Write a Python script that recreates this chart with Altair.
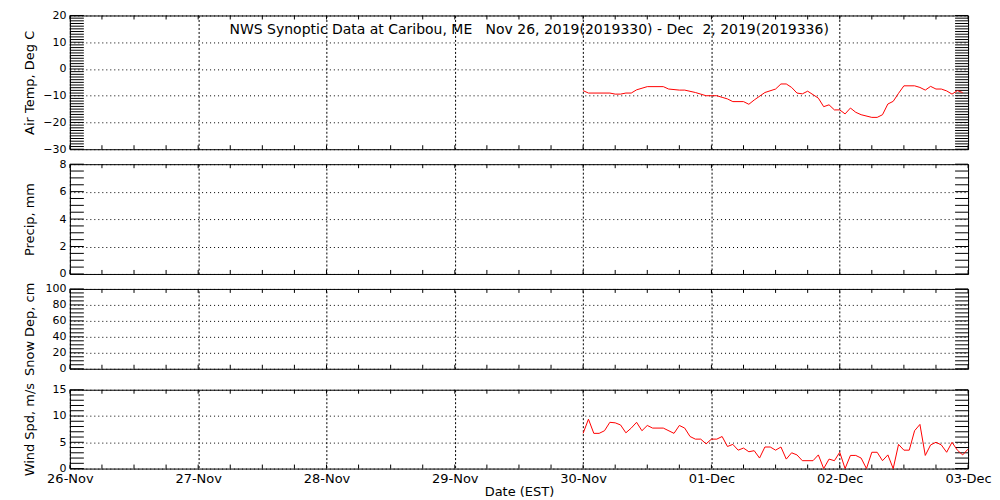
import json
import altair as alt
import numpy as np
import pandas as pd

day_labels = ["26-Nov", "27-Nov", "28-Nov", "29-Nov", "30-Nov", "01-Dec", "02-Dec", "03-Dec"]
title_text = "NWS Synoptic Data at Caribou, ME   Nov 26, 2019(2019330) - Dec  2, 2019(2019336)"

# hours since 30-Nov 00:00 EST
temp_hours = [0, 1, 5, 6, 7, 8, 9, 10, 12, 15, 16, 18, 19, 21, 23, 25, 26, 27, 28, 30,
              31, 32, 34, 36, 37, 38, 39, 40, 41, 42, 43, 44, 45, 46, 47, 48, 49, 50, 51, 52,
              54, 55, 56, 57, 58, 59, 60, 62, 63, 64, 65, 66, 67, 68, 69, 70, 71]
temp_vals = [-8.1, -9.0, -9.0, -9.4, -9.4, -9.0, -9.0, -7.8, -6.6, -6.6,
             -7.5, -7.9, -7.9, -8.8, -10.0, -10.0, -10.6, -11.2, -12.2, -12.2,
             -13.2, -11.6, -8.8, -7.5, -5.6, -5.6, -6.9, -9.0, -9.3, -8.3,
             -9.6, -10.9, -14.1, -13.4, -15.3, -15.3, -16.8, -14.6, -16.2, -17.1,
             -18.1, -18.1, -17.1, -13.1, -12.1, -9.1, -6.3, -6.3, -6.9, -7.9,
             -6.5, -7.5, -7.5, -8.2, -9.4, -8.1, -8.8]

wind_hours = [0, 1, 2, 3, 4, 5, 6, 7, 8, 9, 10, 11, 12, 13, 15, 17, 18, 19, 20, 21,
              22, 23, 24, 25, 26, 27, 28, 29, 30, 31, 32, 33, 34, 35, 36, 37, 38, 39, 40, 41,
              43, 44, 45, 46, 47, 48, 49, 50, 51, 52, 53, 54, 55, 56, 57, 58, 59, 60, 61, 62,
              63, 64, 65, 66, 67, 68, 69, 70, 71, 72]
wind_vals = [6.7, 9.4, 6.7, 6.7, 7.2, 8.8, 8.7, 8.3, 6.8, 7.7, 8.8, 7.2, 8.2, 7.7,
             7.7, 6.7, 8.2, 7.7, 6.1, 5.6, 5.6, 4.7, 5.6, 5.6, 6.1, 4.2,
             4.6, 3.5, 3.9, 3.2, 3.4, 2.0, 4.1, 4.1, 3.5, 4.1, 1.8, 3.0, 2.6, 1.5,
             1.5, 2.6, 0.0, 1.8, 1.5, 3.1, 0.0, 2.5, 2.5, 2.0,
             0.0, 3.1, 3.1, 1.5, 2.6, 0.0, 4.6, 3.5, 3.5, 7.2,
             8.4, 2.5, 4.5, 5.0, 4.5, 3.1, 5.0, 3.5, 2.6, 3.7]

OFFSET = 96  # 30-Nov relative to 26-Nov, hours
W = 900
FONT = "DejaVu Sans"

label_expr = json.dumps(day_labels) + "[round(datum.value / 24)]"


def panel(h, lo, hi, major, minor_step, ytitle, series=None, bottom=False, title=False):
    xscale = alt.Scale(domain=[0, 168], nice=False, zero=False)
    yscale = alt.Scale(domain=[lo, hi], nice=False, zero=False)
    xaxis_kw = dict(values=list(range(0, 169, 24)), grid=True, gridDash=[2, 2],
                    gridColor="black", gridWidth=1, gridOpacity=1,
                    ticks=False, domain=False, labelFlush=False, labelOverlap=False)
    if bottom:
        xaxis = alt.Axis(labels=True, labelExpr=label_expr, labelPadding=4,
                         labelFont=FONT, labelFontSize=13, labelColor="black",
                         title="Date (EST)", titleFont=FONT, titleFontSize=13,
                         titleFontWeight="normal", titleColor="black", titlePadding=0,
                         **xaxis_kw)
    else:
        xaxis = alt.Axis(labels=False, title=None, **xaxis_kw)
    yaxis = alt.Axis(values=major, grid=True, gridDash=[1, 3], gridColor="black",
                     gridWidth=1, gridOpacity=1, ticks=False, domain=False,
                     labelFlush=False, labelOverlap=False, labelPadding=4,
                     labelFont=FONT, labelFontSize=11, labelColor="black",
                     title=ytitle, titleFont=FONT, titleFontSize=13,
                     titleFontWeight="normal", titleColor="black",
                     titleX=-40, titleY=h / 2, titleAngle=270,
                     titleAlign="center", titleBaseline="middle")

    ytick_df = pd.DataFrame({"y": np.arange(lo, hi + minor_step / 2, minor_step)})
    xtick_df = pd.DataFrame({"x": np.arange(0, 169, 6)})

    left = alt.Chart(ytick_df).mark_rule(color="black", strokeWidth=1).encode(
        y=alt.Y("y:Q", scale=yscale, axis=yaxis), x=alt.value(0), x2=alt.value(14))
    right = alt.Chart(ytick_df).mark_rule(color="black", strokeWidth=1).encode(
        y=alt.Y("y:Q", scale=yscale, axis=yaxis), x=alt.value(W - 13), x2=alt.value(W))
    bot = alt.Chart(xtick_df).mark_rule(color="black", strokeWidth=1).encode(
        x=alt.X("x:Q", scale=xscale, axis=xaxis), y=alt.value(h - 4), y2=alt.value(h))
    top = alt.Chart(xtick_df).mark_rule(color="black", strokeWidth=1).encode(
        x=alt.X("x:Q", scale=xscale, axis=xaxis), y=alt.value(0), y2=alt.value(4))
    layers = [left, right, bot, top]
    if series is not None:
        hrs, vals = series
        df = pd.DataFrame({"x": [OFFSET + t for t in hrs], "y": vals})
        line = alt.Chart(df).mark_line(color="#ff0000", strokeWidth=1).encode(
            x=alt.X("x:Q", scale=xscale, axis=xaxis),
            y=alt.Y("y:Q", scale=yscale, axis=yaxis))
        layers.append(line)
    if title:
        shown = title_text.replace(" ", "\u00a0")
        t = alt.Chart(pd.DataFrame({"t": [shown]})).mark_text(
            align="left", baseline="middle", font=FONT, fontSize=14, color="black"
        ).encode(text="t:N", x=alt.value(160), y=alt.value(15))
        layers.append(t)
    return alt.layer(*layers).properties(width=W, height=h)


p1 = panel(134, -30, 20, [-30, -20, -10, 0, 10, 20], 1, "Air Temp, Deg C",
           series=(temp_hours, temp_vals), title=True)
p2 = panel(110, 0, 8, [0, 2, 4, 6, 8], 0.5, "Precip, mm")
p3 = panel(80, 0, 100, [0, 20, 40, 60, 80, 100], 5, "Snow Dep, cm")
p4 = panel(79, 0, 15, [0, 5, 10, 15], 1, "Wind Spd, m/s",
           series=(wind_hours, wind_vals), bottom=True)

upper = alt.vconcat(p1, p2, p3, spacing=15, bounds="flush")
chart = alt.vconcat(upper, p4, spacing=5).properties(
    padding={"left": 15, "top": 0, "right": 0, "bottom": 0},
    background="white",
).configure_view(stroke="black", strokeWidth=1)

chart.save("out.html", embed_options={"renderer": "svg", "actions": False})
